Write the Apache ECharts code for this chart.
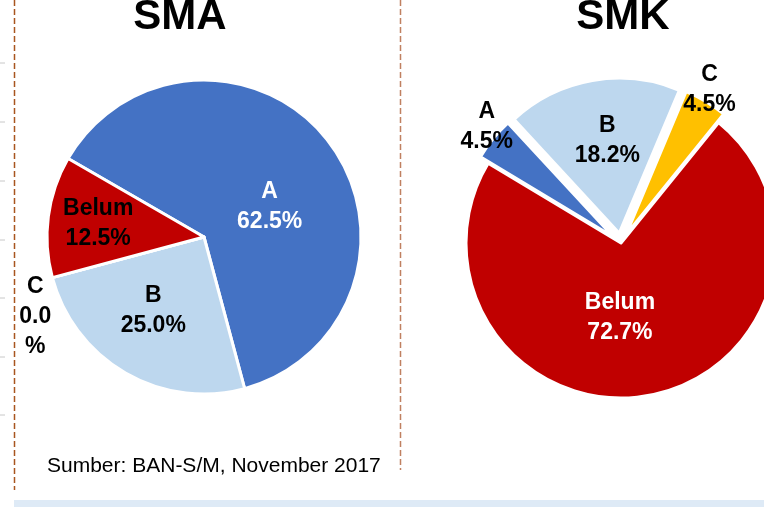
<!DOCTYPE html>
<html>
<head>
<meta charset="utf-8">
<script src="https://cdn.jsdelivr.net/npm/echarts@6/dist/echarts.min.js"></script>
<style>
html,body{margin:0;padding:0;background:#fff;}
#chart{width:764px;height:507px;}
</style>
</head>
<body>
<div id="chart"></div>
<script>
// ---- data ----
const categories = ['A', 'B', 'C', 'Belum'];
const smaValues = [62.5, 25.0, 0.0, 12.5];
const smkValues = [4.5, 18.2, 4.5, 72.7];
const titles = ['SMA', 'SMK'];
const sourceText = 'Sumber: BAN-S/M, November 2017';

// ---- styles ----
const colors = {A: '#4472C4', B: '#BDD7EE', C: '#FFC000', Belum: '#C00000'};
const FONT = '"Liberation Sans", Arial, sans-serif';

const smaLabel = {
  A: {color: '#fff', offset: [1, 19]},
  B: {color: '#000', offset: [-10, 3]},
  C: {color: '#000', offset: [-90, 59], wrap: true},
  Belum: {color: '#000', offset: [-25, -3]}
};
const smkLabel = {
  A: {color: '#000', offset: [-64, -59], selected: true},
  B: {color: '#000', offset: [2, -13], selected: true},
  C: {color: '#000', offset: [42, -76], selected: true},
  Belum: {color: '#fff', offset: [-15, -5]}
};

function buildData(values, styleMap) {
  return categories.map((c, i) => {
    const s = styleMap[c];
    const v = values[i].toFixed(1);
    const lab = {
      color: s.color,
      offset: s.offset,
      formatter: s.wrap ? (c + '\n' + v + '\n%') : (c + '\n' + v + '%')
    };
    return {
      name: c,
      value: values[i],
      selected: !!s.selected,
      itemStyle: {color: colors[c]},
      label: lab,
      select: {label: {color: s.color, offset: s.offset}, itemStyle: {color: colors[c], borderColor: '#fff', borderWidth: 3}}
    };
  });
}

function pieSeries(center, radius, startAngle, data) {
  return {
    type: 'pie',
    center: center,
    radius: radius,
    startAngle: startAngle,
    clockwise: true,
    animation: false,
    selectedMode: 'multiple',
    selectedOffset: 10,
    avoidLabelOverlap: false,
    emphasis: {disabled: true},
    itemStyle: {borderColor: '#fff', borderWidth: 3},
    label: {
      show: true,
      position: 'inside',
      fontFamily: FONT,
      fontWeight: 'bold',
      fontSize: 23,
      lineHeight: 30,
      align: 'center'
    },
    labelLine: {show: false},
    data: data
  };
}

const chart = echarts.init(document.getElementById('chart'), null, {renderer: 'canvas'});

const ticks = [63, 122, 181, 240, 298, 357, 415].map(y => ({
  type: 'line', shape: {x1: 0, y1: y, x2: 5, y2: y},
  style: {stroke: '#C8C8C8', lineWidth: 1}
}));

chart.setOption({
  backgroundColor: '#ffffff',
  animation: false,
  title: [
    {text: titles[0], left: 175, top: -9, textAlign: 'center',
     textStyle: {fontFamily: FONT, fontWeight: 'bold', fontSize: 42, color: '#000'}},
    {text: titles[1], left: 618, top: -9, textAlign: 'center',
     textStyle: {fontFamily: FONT, fontWeight: 'bold', fontSize: 42, color: '#000'}}
  ],
  graphic: [
    {type: 'rect', shape: {x: 14, y: 500, width: 750, height: 7}, style: {fill: '#DEEAF6'}},
    {type: 'line', shape: {x1: 14.5, y1: 0, x2: 14.5, y2: 490},
     style: {stroke: '#A8551F', lineWidth: 1.5, lineDash: [6, 3]}},
    {type: 'line', shape: {x1: 400.5, y1: 0, x2: 400.5, y2: 470},
     style: {stroke: '#C08060', lineWidth: 1.5, lineDash: [6, 3]}},
    ...ticks,
    {type: 'text', x: 47, y: 456,
     style: {text: sourceText, font: '21px ' + FONT, fill: '#000'}}
  ],
  series: [
    pieSeries([204, 237], 157, 150, buildData(smaValues, smaLabel)),
    pieSeries([621, 243], 155, 149, buildData(smkValues, smkLabel))
  ]
});
</script>
</body>
</html>
